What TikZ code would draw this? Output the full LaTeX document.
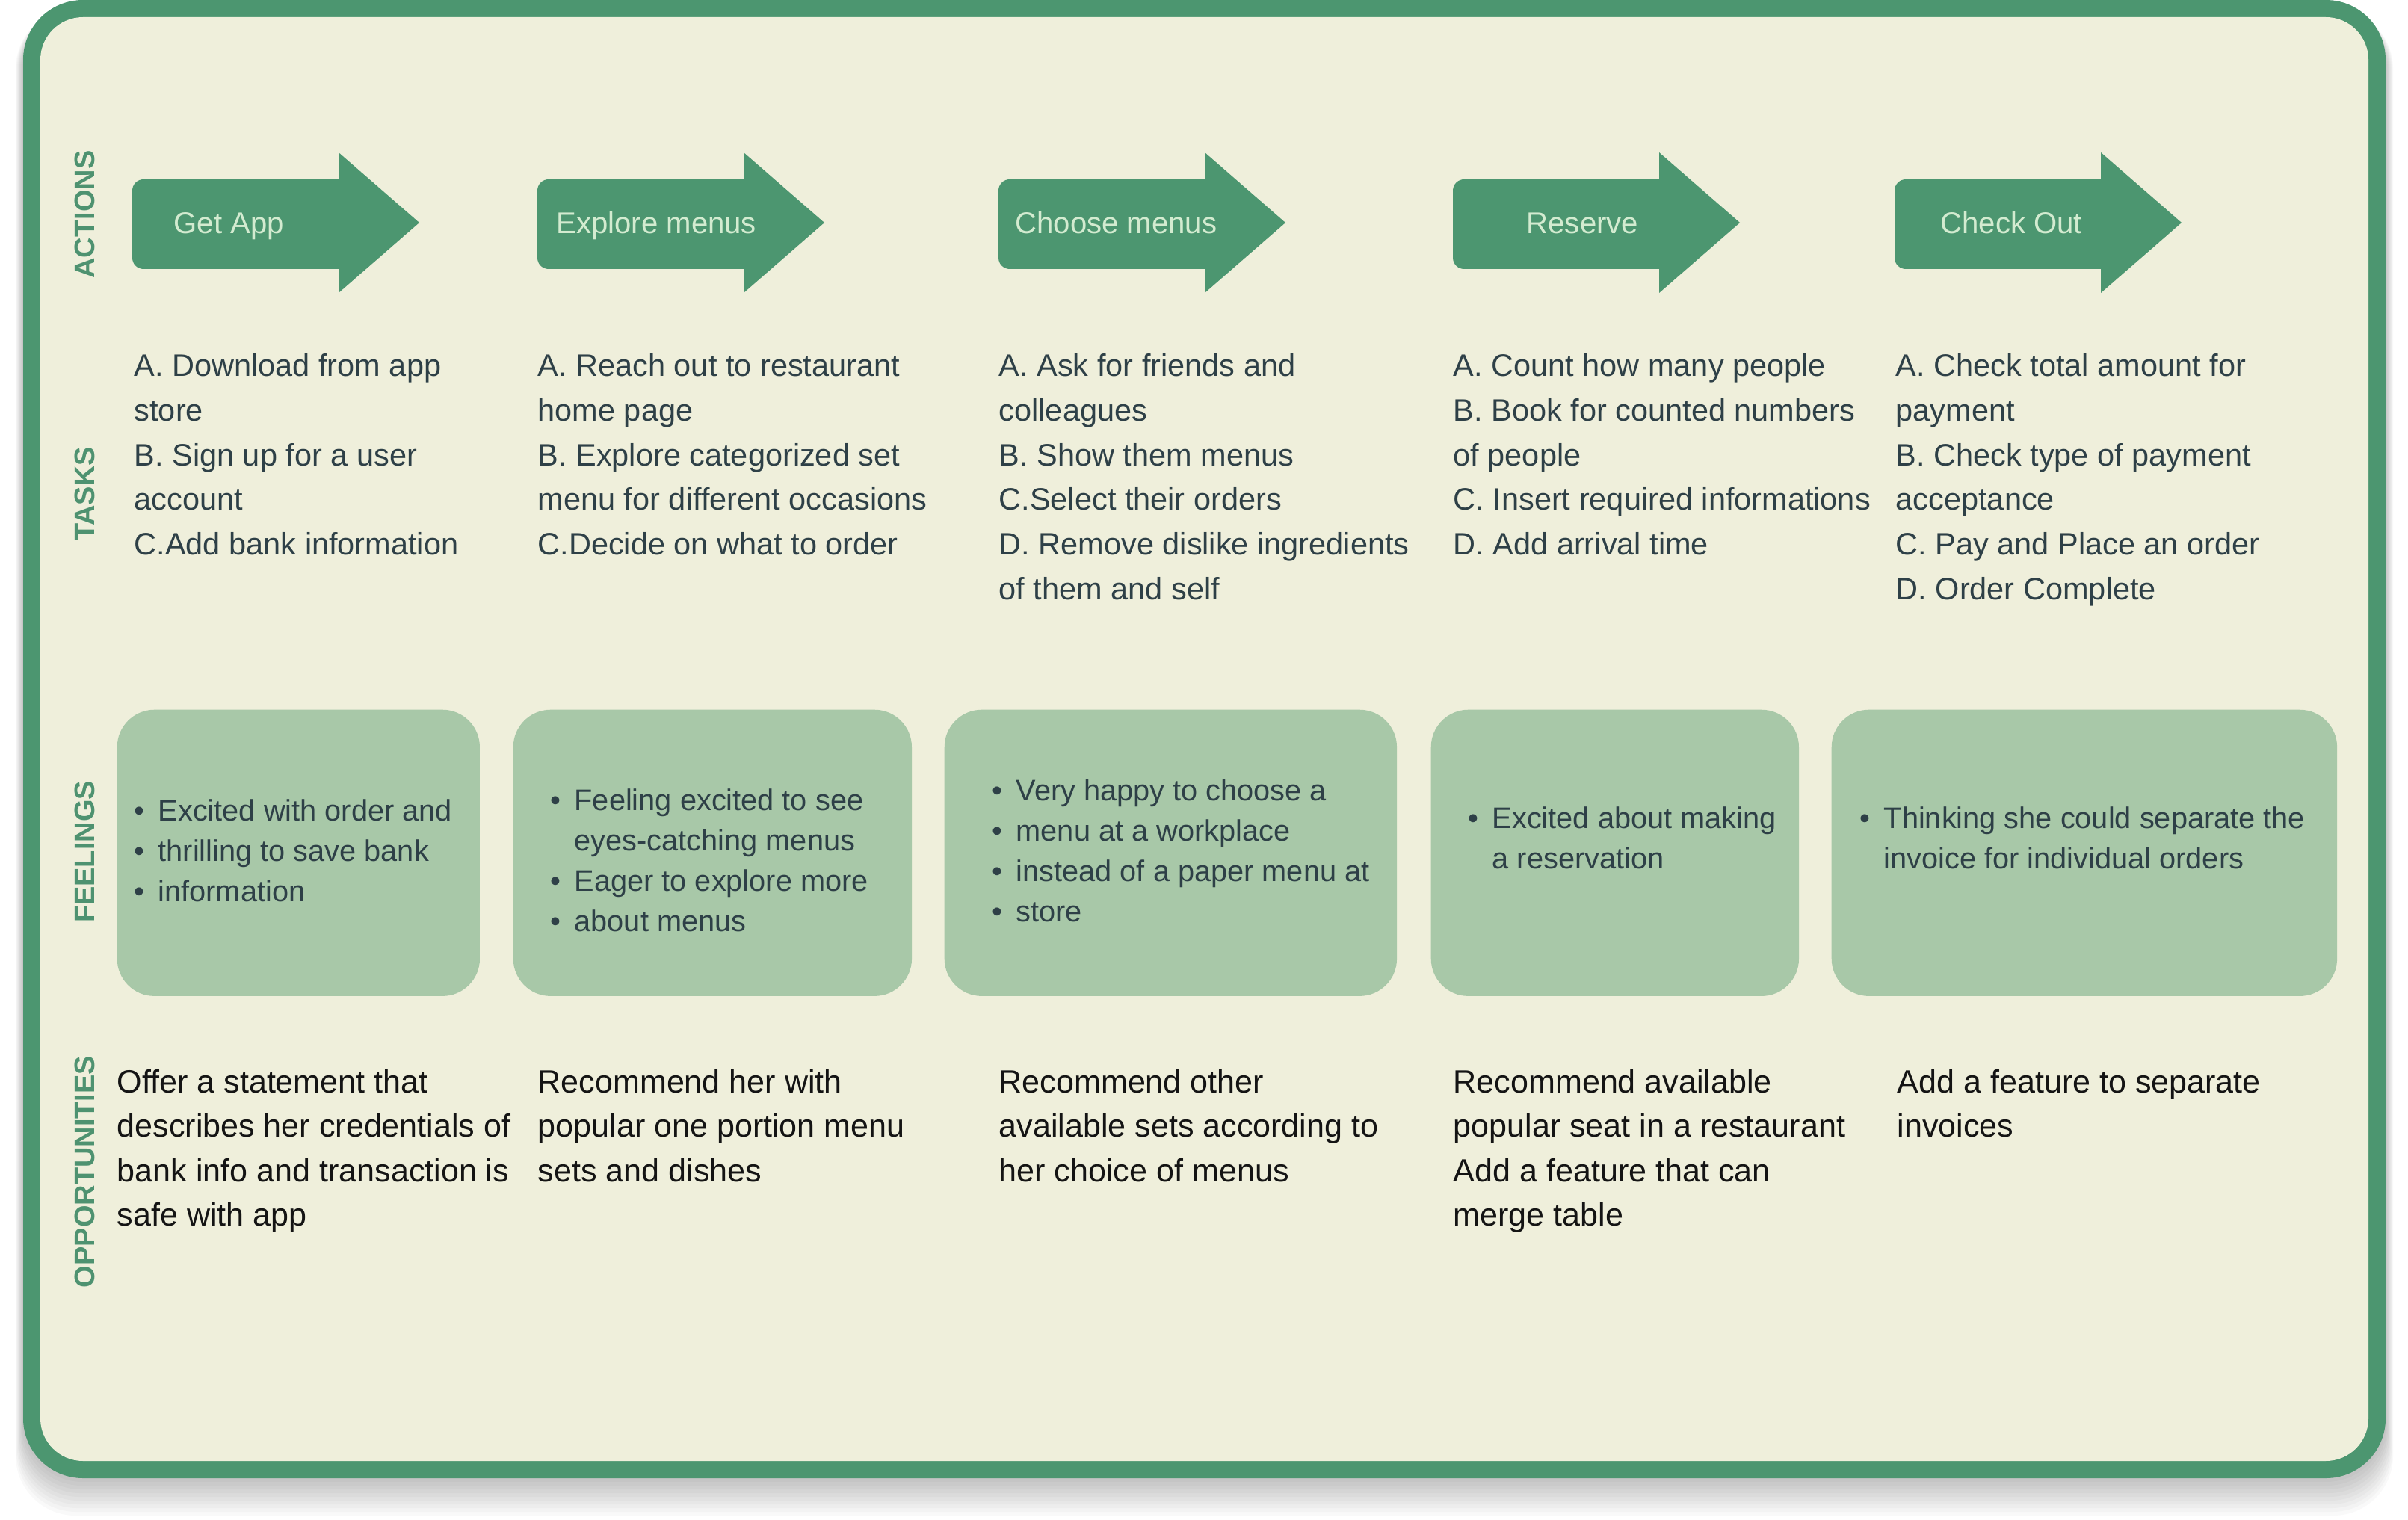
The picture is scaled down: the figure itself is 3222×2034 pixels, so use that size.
\documentclass[tikz,border=0pt]{standalone}
\usepackage{fontspec}
\setmainfont{Liberation Sans}
\definecolor{framegreen}{HTML}{4C9670}
\definecolor{cream}{HTML}{EFEFDB}
\definecolor{boxgreen}{HTML}{A8C8A8}
\definecolor{arrowtext}{HTML}{D3EBD0}
\definecolor{taskc}{HTML}{2E4047}
\definecolor{oppc}{HTML}{141414}
\definecolor{labelgreen}{HTML}{4E9270}
\newcommand{\bul}[1]{\makebox[9.1pt][l]{\textbullet}#1}
\newcommand{\cnt}[1]{\hspace*{9.1pt}#1}
\newcommand{\blk}[1]{\parbox[t]{12cm}{\raggedright #1}}
\begin{document}
\begin{tikzpicture}[x=0.01cm,y=-0.01cm,
  lbl/.style={rotate=90, font=\fontsize{10.8}{13}\selectfont\bfseries, text=labelgreen, inner sep=0},
  acttext/.style={anchor=base west, font=\fontsize{11.4}{13}\selectfont, text=arrowtext, inner sep=0},
  task/.style={anchor=base west, font=\fontsize{11.8}{16.96}\selectfont, text=taskc, inner sep=0},
  feel/.style={anchor=base west, font=\fontsize{11.3}{15.36}\selectfont, text=taskc, inner sep=0},
  opp/.style={anchor=base west, font=\fontsize{12.25}{16.96}\selectfont, text=oppc, inner sep=0},
  feelbox/.style={fill=boxgreen, rounded corners=0.5cm, inner sep=0, anchor=north west, minimum height=3.83cm},
  arrowfill/.style={fill=framegreen}
]
\useasboundingbox (0,0) rectangle (3222,2034);
\fill[white] (0,0) rectangle (3222,2034);
% shadow
\foreach \i in {1,...,10}{
  \fill[black, opacity=0.022, rounded corners=0.8cm] (31-\i,12) rectangle (3192+\i,1978+5*\i);
}
% frame
\fill[framegreen, rounded corners=0.8cm] (31,0) rectangle (3192,1978);
\fill[cream, rounded corners=0.57cm] (54,23) rectangle (3169,1955);

% row labels
\node[lbl] (lact) at (113,287) {ACTIONS};
\node[lbl] (ltask) at (113,661) {TASKS};
\node[lbl] (lfeel) at (113,1140) {FEELINGS};
\node[lbl] (lopp) at (113,1568) {OPPORTUNITIES};

% arrows
\foreach \x in {177,719,1336,1944,2535}{
  \fill[arrowfill, rounded corners=0.15cm] (\x,240) rectangle (\x+290,360);
  \fill[arrowfill] (\x+276,204) -- (\x+384,298) -- (\x+276,392) -- cycle;
}
\node[acttext] (a1) at (232,313) {Get App};
\node[acttext] (a2) at (744,313) {Explore menus};
\node[acttext] (a3) at (1358,313) {Choose menus};
\node[acttext] (a4) at (2042,313) {Reserve};
\node[acttext] (a5) at (2596,313) {Check Out};

% tasks
\node[task] (t1) at (179,504) {\blk{A. Download from app\\store\\B. Sign up for a user\\account\\C.Add bank information}};
\node[task] (t2) at (719,504) {\blk{A. Reach out to restaurant\\home page\\B. Explore categorized set\\menu for different occasions\\C.Decide on what to order}};
\node[task] (t3) at (1336,504) {\blk{A. Ask for friends and\\colleagues\\B. Show them menus\\C.Select their orders\\D. Remove dislike ingredients\\of them and self}};
\node[task] (t4) at (1944,504) {\blk{A. Count how many people\\B. Book for counted numbers\\of people\\C. Insert required informations\\D. Add arrival time}};
\node[task] (t5) at (2536,504) {\blk{A. Check total amount for\\payment\\B. Check type of payment\\acceptance\\C. Pay and Place an order\\D. Order Complete}};

% feelings boxes
\node[feelbox, minimum width=4.85cm] (fb1) at (156,949) {};
\node[feelbox, minimum width=5.33cm] (fb2) at (686,949) {};
\node[feelbox, minimum width=6.05cm] (fb3) at (1263,949) {};
\node[feelbox, minimum width=4.92cm] (fb4) at (1914,949) {};
\node[feelbox, minimum width=6.76cm] (fb5) at (2450,949) {};

\node[feel] (f1) at (179,1098) {\blk{\bul{Excited with order and}\\\bul{thrilling to save bank}\\\bul{information}}};
\node[feel] (f2) at (736,1084) {\blk{\bul{Feeling excited to see}\\\cnt{eyes-catching menus}\\\bul{Eager to explore more}\\\bul{about menus}}};
\node[feel] (f3) at (1327,1071) {\blk{\bul{Very happy to choose a}\\\bul{menu at a workplace}\\\bul{instead of a paper menu at}\\\bul{store}}};
\node[feel] (f4) at (1964,1108) {\blk{\bul{Excited about making}\\\cnt{a reservation}}};
\node[feel] (f5) at (2488,1108) {\blk{\bul{Thinking she could separate the}\\\cnt{invoice for individual orders}}};

% opportunities
\node[opp] (o1) at (156,1462) {\blk{Offer a statement that\\describes her credentials of\\bank info and transaction is\\safe with app}};
\node[opp] (o2) at (719,1462) {\blk{Recommend her with\\popular one portion menu\\sets and dishes}};
\node[opp] (o3) at (1336,1462) {\blk{Recommend other\\available sets according to\\her choice of menus}};
\node[opp] (o4) at (1944,1462) {\blk{Recommend available\\popular seat in a restaurant\\Add a feature that can\\merge table}};
\node[opp] (o5) at (2538,1462) {\blk{Add a feature to separate\\invoices}};
\end{tikzpicture}
\end{document}
